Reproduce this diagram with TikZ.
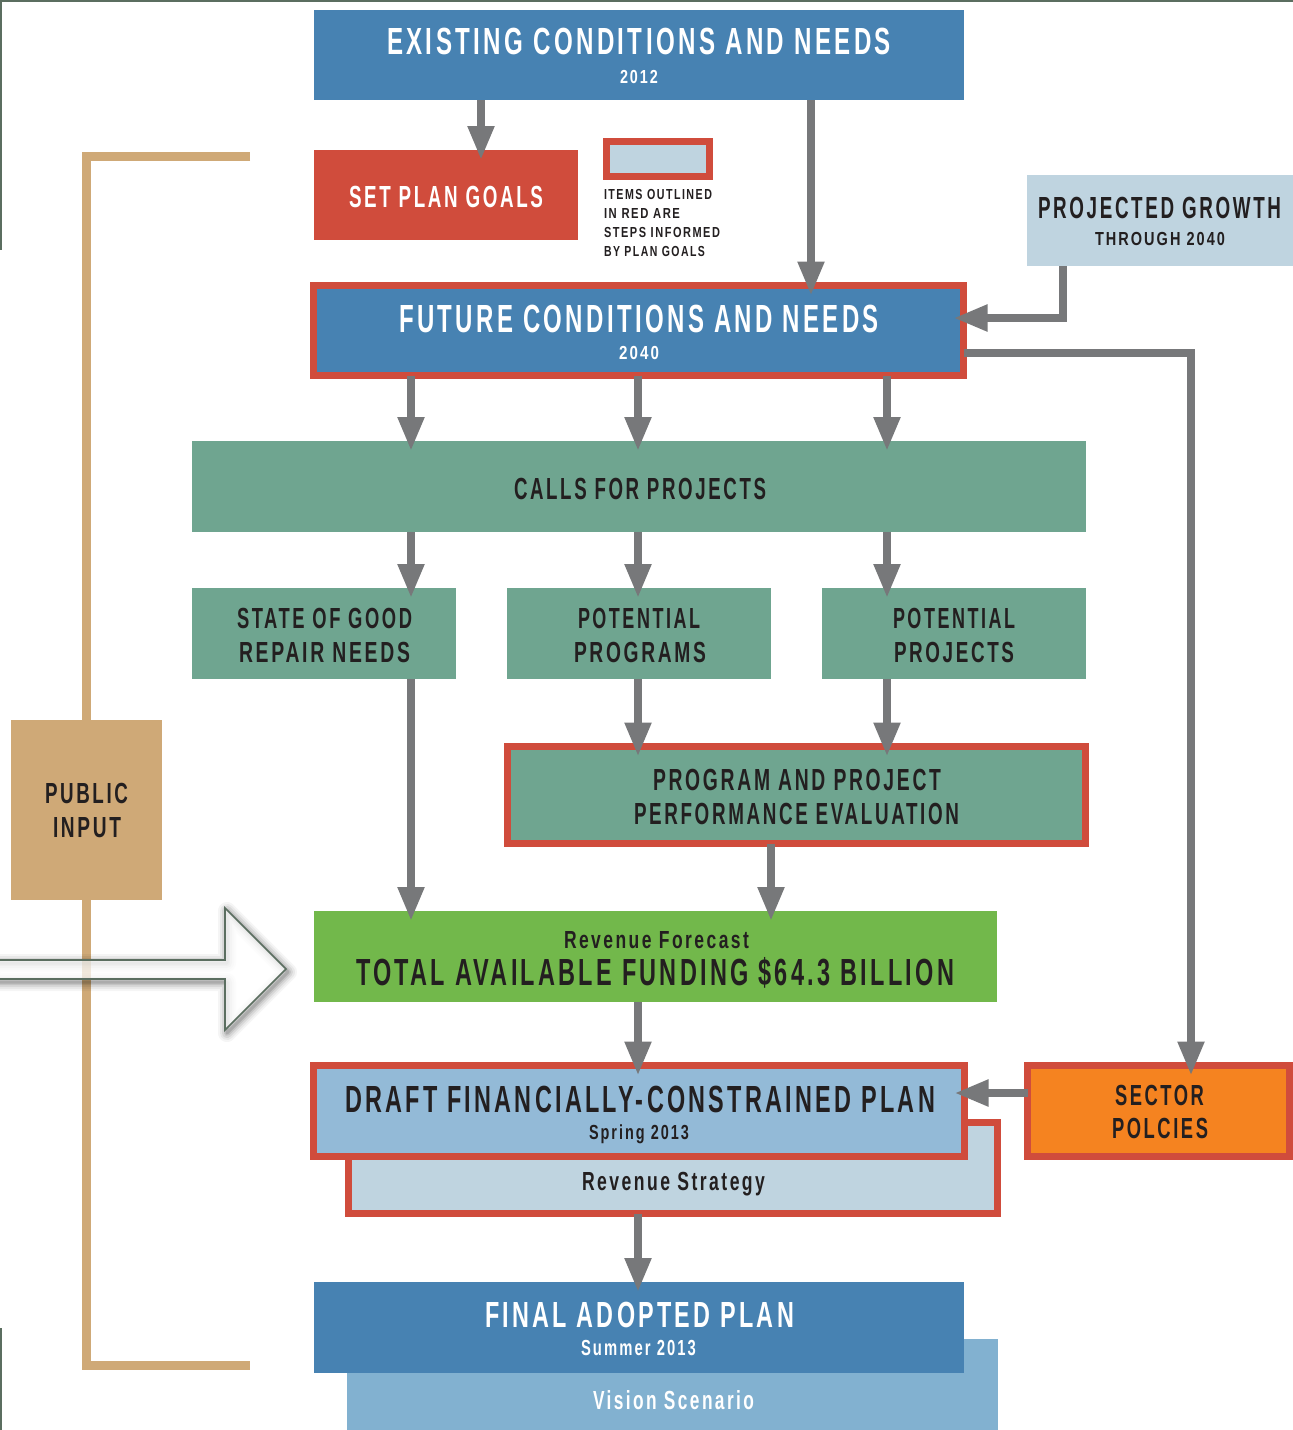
\documentclass[tikz,border=0pt]{standalone}
\usepackage{fontspec}
\newfontfamily\condf{Liberation Sans}[LetterSpace=14]
\usetikzlibrary{arrows.meta}
\definecolor{blueD}{HTML}{4782B2}
\definecolor{redC}{HTML}{D04C3C}
\definecolor{lightB}{HTML}{BFD4E0}
\definecolor{tealC}{HTML}{6FA590}
\definecolor{greenC}{HTML}{72B84B}
\definecolor{draftB}{HTML}{93BAD7}
\definecolor{visionB}{HTML}{82B1D0}
\definecolor{orangeC}{HTML}{F58320}
\definecolor{tanC}{HTML}{CFA977}
\definecolor{grayC}{HTML}{77787A}
\definecolor{darkT}{HTML}{231F20}
\definecolor{frameC}{HTML}{5B6E60}
\newsavebox\fitbox
\newsavebox\capbox
\newcommand\fitt[3]{\sbox\fitbox{\condf\bfseries #3}\sbox\capbox{\condf\bfseries H}%
  \pgfmathsetmacro\fsx{#1/\the\wd\fitbox}\pgfmathsetmacro\fsy{#2/\the\ht\capbox}%
  \scalebox{\fsx}[\fsy]{\usebox\fitbox}}
\tikzset{
  box/.style={rectangle, inner sep=0pt, outer sep=0pt, draw=none},
  redbox/.style={rectangle, inner sep=0pt, outer sep=0pt, draw=redC, line width=7pt},
  txt/.style={anchor=base, inner sep=0pt, outer sep=0pt, text=darkT},
  wtxt/.style={txt, text=white},
  conn/.style={draw=grayC, line width=8pt, -{Triangle[length=34pt,width=25pt]}, shorten >=-10pt},
  frameline/.style={draw=frameC, line width=3pt},
  tanline/.style={draw=tanC, line width=9pt}
}
\begin{document}
\begin{tikzpicture}[x=1pt,y=-1pt]
\useasboundingbox (0,0) rectangle (1293,1430);
\fill[white] (0,0) rectangle (1293,1430);
% frame lines
\draw[frameline] (0,0) -- (1293,0);
\draw[frameline] (0,0) -- (0,250);
\draw[frameline] (0,1328) -- (0,1430);
% public input bracket
\coordinate (bt) at (250,156.5);
\coordinate (bb) at (250,1365);
\draw[tanline] (bt) -- (86.5,156.5) -- (86.5,1365) -- (bb);
\node[box, fill=tanC, minimum width=151pt, minimum height=180pt] (public) at (86.5,810) {};
% big hollow arrow
\foreach \w/\o in {18/0.04,14/0.05,10/0.07,6/0.09,3/0.12}{
  \draw[line width=\w pt, black, opacity=\o, line join=round, shift={(2,3)}]
    (-10,960) -- (225,960) -- (225,908) -- (286,969) -- (225,1030) -- (225,979) -- (-10,979) -- cycle;
}
\filldraw[fill=white, fill opacity=0.75, draw=frameC, line width=1.6pt]
  (-10,960) -- (225,960) -- (225,908) -- (286,969) -- (225,1030) -- (225,979) -- (-10,979) -- cycle;
% boxes
\node[box, fill=blueD, minimum width=650pt, minimum height=90pt] (exist) at (639,55) {};
\node[box, fill=redC, minimum width=264pt, minimum height=90pt] (goals) at (446,195) {};
\node[redbox, fill=lightB, minimum width=103pt, minimum height=35pt] (legend) at (658,159) {};
\node[box, fill=lightB, minimum width=266pt, minimum height=91pt] (growth) at (1160,220.5) {};
\node[redbox, fill=blueD, minimum width=650pt, minimum height=90pt] (future) at (638.5,330.5) {};
\node[box, fill=tealC, minimum width=894pt, minimum height=91pt] (calls) at (639,486.5) {};
\node[box, fill=tealC, minimum width=264pt, minimum height=91pt] (sgr) at (324,633.5) {};
\node[box, fill=tealC, minimum width=264pt, minimum height=91pt] (progs) at (639,633.5) {};
\node[box, fill=tealC, minimum width=264pt, minimum height=91pt] (projs) at (954,633.5) {};
\node[redbox, fill=tealC, minimum width=578pt, minimum height=97pt] (perf) at (796.5,795) {};
\node[box, fill=greenC, minimum width=683pt, minimum height=91pt] (rev) at (655.5,956.5) {};
\node[redbox, fill=lightB, minimum width=649pt, minimum height=91pt] (revstrat) at (673,1168) {};
\node[redbox, fill=draftB, minimum width=651pt, minimum height=91pt] (draft) at (639,1111) {};
\node[redbox, fill=orangeC, minimum width=262pt, minimum height=91pt] (sector) at (1158.5,1111) {};
\node[box, fill=visionB, minimum width=651pt, minimum height=91pt] (vision) at (672.5,1384.5) {};
\node[box, fill=blueD, minimum width=650pt, minimum height=91pt] (final) at (639,1327.5) {};
% connectors
\draw[conn] (exist.south -| 481,0) -- (goals.north -| 481,0);
\draw[conn] (exist.south -| 811,0) -- (future.north -| 811,0);
\draw[conn] (growth.south -| 1063,0) |- (future.east |- 0,318);
\draw[conn] (future.east |- 0,353) -| (sector.north -| 1191,0);
\draw[conn] (future.south -| 411,0) -- (calls.north -| 411,0);
\draw[conn] (future.south -| 638,0) -- (calls.north -| 638,0);
\draw[conn] (future.south -| 887,0) -- (calls.north -| 887,0);
\draw[conn] (calls.south -| 411,0) -- (sgr.north -| 411,0);
\draw[conn] (calls.south -| 638,0) -- (progs.north -| 638,0);
\draw[conn] (calls.south -| 887,0) -- (projs.north -| 887,0);
\draw[conn] (progs.south -| 638,0) -- (perf.north -| 638,0);
\draw[conn] (projs.south -| 887,0) -- (perf.north -| 887,0);
\draw[conn] (sgr.south -| 411,0) -- (rev.north -| 411,0);
\draw[conn] (perf.south -| 771,0) -- (rev.north -| 771,0);
\draw[conn] (rev.south -| 638,0) -- (draft.north -| 638,0);
\draw[conn] (sector.west |- 0,1093) -- (draft.east |- 0,1093);
\draw[conn] (revstrat.south -| 638,0) -- (final.north -| 638,0);
% texts
\node[wtxt] (t-exist) at (639,54) {\fitt{504}{26}{EXISTING CONDITIONS AND NEEDS}};
\node[wtxt] (t-2012) at (639,83) {\fitt{38}{13}{2012}};
\node[wtxt] (t-goals) at (446,207) {\fitt{194}{21}{SET PLAN GOALS}};
\node[txt, anchor=base west] (t-leg1) at (604,199) {\fitt{108}{10}{ITEMS OUTLINED}};
\node[txt, anchor=base west] (t-leg2) at (604,218) {\fitt{76}{10}{IN RED ARE}};
\node[txt, anchor=base west] (t-leg3) at (604,237) {\fitt{116}{10}{STEPS INFORMED}};
\node[txt, anchor=base west] (t-leg4) at (604,256) {\fitt{101}{10}{BY PLAN GOALS}};
\node[txt] (t-growth1) at (1159.5,218) {\fitt{243}{21}{PROJECTED GROWTH}};
\node[txt] (t-growth2) at (1160,245) {\fitt{130}{13}{THROUGH 2040}};
\node[wtxt] (t-future) at (639,332) {\fitt{480}{27}{FUTURE CONDITIONS AND NEEDS}};
\node[wtxt] (t-2040) at (639,359) {\fitt{40}{13}{2040}};
\node[txt] (t-calls) at (640,499) {\fitt{252}{21}{CALLS FOR PROJECTS}};
\node[txt] (t-sgr1) at (324.5,628) {\fitt{175}{20}{STATE OF GOOD}};
\node[txt] (t-sgr2) at (324.5,662) {\fitt{171}{20}{REPAIR NEEDS}};
\node[txt] (t-prog1) at (639,628) {\fitt{122}{20}{POTENTIAL}};
\node[txt] (t-prog2) at (640,662) {\fitt{132}{20}{PROGRAMS}};
\node[txt] (t-proj1) at (954,628) {\fitt{122}{20}{POTENTIAL}};
\node[txt] (t-proj2) at (954,662) {\fitt{120}{20}{PROJECTS}};
\node[txt] (t-perf1) at (797,790) {\fitt{288}{21}{PROGRAM AND PROJECT}};
\node[txt] (t-perf2) at (796.5,824) {\fitt{325}{21}{PERFORMANCE EVALUATION}};
\node[txt] (t-rev1) at (656.5,948) {\fitt{185}{17}{Revenue Forecast}};
\node[txt] (t-rev2) at (655,985) {\fitt{598}{26}{TOTAL AVAILABLE FUNDING \$64.3 BILLION}};
\node[txt] (t-draft1) at (640,1112) {\fitt{590}{26}{DRAFT FINANCIALLY-CONSTRAINED PLAN}};
\node[txt] (t-draft2) at (639,1139) {\fitt{100}{14}{Spring 2013}};
\node[txt] (t-revstrat) at (673.5,1190) {\fitt{183}{18}{Revenue Strategy}};
\node[txt] (t-sector1) at (1159.5,1105) {\fitt{89}{20}{SECTOR}};
\node[txt] (t-sector2) at (1160,1138) {\fitt{96}{20}{POLCIES}};
\node[txt] (t-public1) at (86.5,803) {\fitt{83}{20}{PUBLIC}};
\node[txt] (t-public2) at (87,837) {\fitt{68}{20}{INPUT}};
\node[wtxt] (t-final1) at (639.5,1327) {\fitt{309}{25}{FINAL ADOPTED PLAN}};
\node[wtxt] (t-final2) at (638.5,1355) {\fitt{115}{15}{Summer 2013}};
\node[wtxt] (t-vision) at (673.5,1409) {\fitt{161}{18}{Vision Scenario}};
\end{tikzpicture}
\end{document}
